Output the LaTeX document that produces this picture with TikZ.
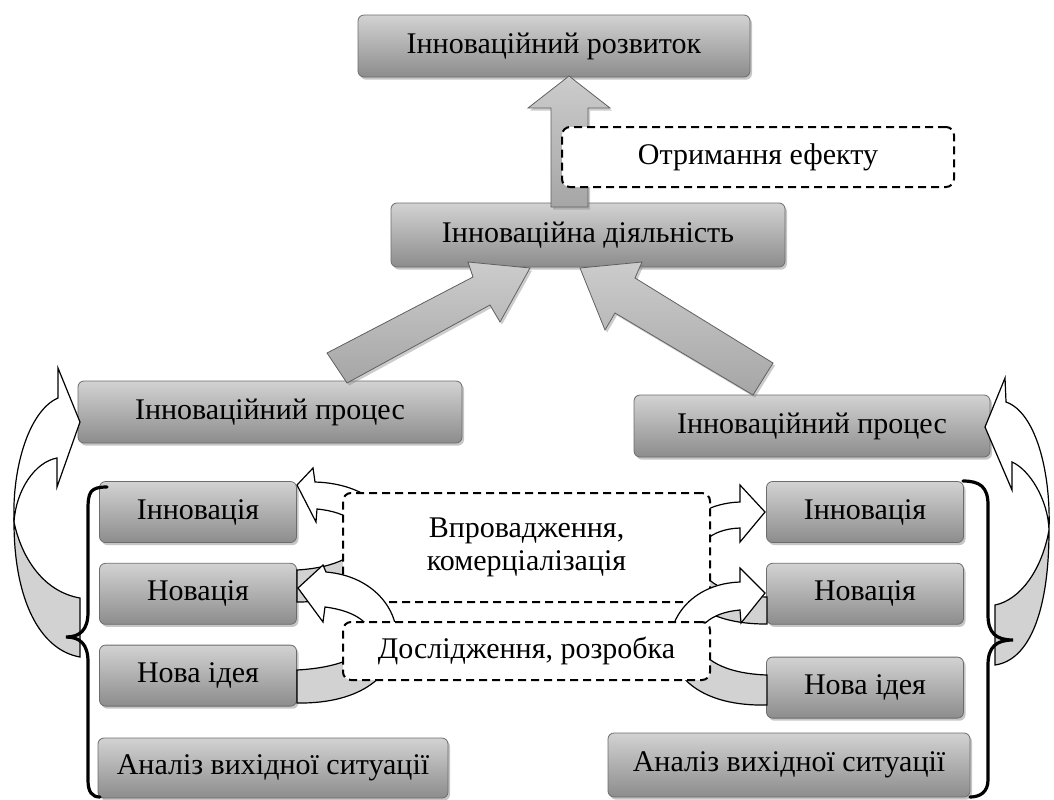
\documentclass[tikz,border=0pt]{standalone}
\usepackage{fontspec}
\setmainfont{Liberation Serif}
\usepackage{tikz}
\usetikzlibrary{positioning, shadows}
\tikzstyle{mainbox} = [rectangle, rounded corners=3pt, draw=gray!85!black, top color=gray!35, bottom color=gray!90, text centered, drop shadow={opacity=0.45, shadow xshift=1pt, shadow yshift=-1.3pt}, font=\fontsize{15}{16.5}\selectfont]
\tikzstyle{smallbox} = [mainbox, minimum width=98.5pt, minimum height=30.5pt]
\tikzstyle{notebox} = [rectangle, rounded corners=4pt, draw=black, line width=1pt, dash pattern=on 4pt off 2.5pt, fill=white, align=center, font=\fontsize{15}{16.5}\selectfont]
\tikzstyle{bigarrow} = [draw=gray!75!black, top color=gray!40, bottom color=gray!70, drop shadow={opacity=0.4, shadow xshift=1pt, shadow yshift=-1.3pt}]
\tikzstyle{bentarrow} = [draw=black, line width=0.6pt, fill=white]
\tikzstyle{bentback} = [draw=black, line width=0.6pt, fill=gray!35]
\tikzstyle{bracket} = [line width=1.6pt, line cap=round]

\begin{document}
\begin{tikzpicture}[x=0.5pt, y=-0.5pt]
    \useasboundingbox (0,0) rectangle (1054,799);

    % columns of stages
    \node (innL) [smallbox] at (198,512) {Інновація};
    \node (novL) [smallbox, below=10pt of innL] {Новація};
    \node (ideaL) [smallbox, below=10pt of novL] {Нова ідея};
    \node (analL) [mainbox, minimum width=175pt, minimum height=30pt] at (273,768) {Аналіз вихідної ситуації};
    \node (innR) [smallbox] at (865,512) {Інновація};
    \node (novR) [smallbox, below=10pt of innR] {Новація};
    \node (ideaR) [smallbox, below=16pt of novR] {Нова ідея};
    \node (analR) [mainbox, minimum width=181pt, minimum height=32pt] at (789,765) {Аналіз вихідної ситуації};

    % bent arrows novacija -> innovacija
    \draw [bentarrow, path picture={\fill[gray!35] (0,548) rectangle (1054,799);}] (297,570) .. controls (380,565) and (380,515) .. (317,509) -- (316,522) -- (297,485) -- (313,468) -- (315,482) .. controls (420,485) and (430,602) .. (297,602) -- cycle;
    \draw [bentarrow, path picture={\fill[gray!35] (0,560) rectangle (1054,799);}] (767,597) .. controls (680,595) and (680,530) .. (740,528) -- (740,542) -- (765,512) -- (740,485) -- (740,502) .. controls (650,505) and (640,625) .. (767,624) -- cycle;

    \node (vpr) [notebox, minimum width=183.5pt, minimum height=54.5pt] at (526.5,547.5) {Впровадження,\\комерціалізація};

    % bent arrows nova ideja -> novacija
    \draw [bentarrow, path picture={\fill[gray!35] (0,642) rectangle (1054,799);}] (297,670) .. controls (390,665) and (390,615) .. (325,607) -- (323,622) -- (298,588) -- (323,565) -- (326,572) .. controls (420,580) and (430,705) .. (297,703) -- cycle;
    \draw [bentarrow, path picture={\fill[gray!35] (0,645) rectangle (1054,799);}] (767,675) .. controls (680,672) and (680,615) .. (740,610) -- (741,623) -- (765,593) -- (740,568) -- (740,582) .. controls (650,585) and (635,708) .. (767,705) -- cycle;

    \node (dosl) [notebox, minimum width=183.5pt, minimum height=29pt] at (526.5,651) {Дослідження, розробка};

    % upper part
    \node (rozv) [mainbox, minimum width=196pt, minimum height=31pt] at (554,46) {Інноваційний розвиток};
    \node (diyal) [mainbox, minimum width=197pt, minimum height=32pt] at (588,235) {Інноваційна діяльність};
    \draw [bigarrow] (551,207) -- (551,108) -- (528,108) -- (569,76) -- (610,108) -- (588,108) -- (588,207) -- cycle;
    \node (efekt) [notebox, minimum width=196pt, minimum height=30pt] at (758,157) {Отримання ефекту};

    \node (procL) [mainbox, minimum width=192pt, minimum height=31pt] at (270,412) {Інноваційний процес};
    \node (procR) [mainbox, minimum width=178pt, minimum height=31pt] at (812,426) {Інноваційний процес};

    \draw [bigarrow] (327,353) -- (473,277) -- (468,262) -- (530,268) -- (500,322) -- (490,305) -- (347,383) -- cycle;
    \draw [bigarrow] (773,363) -- (635,278) -- (642,262) -- (580,268) -- (605,330) -- (615,313) -- (753,395) -- cycle;

    % side arrows
    \draw [bentarrow] (58,398) -- (58,368) -- (80,422) -- (57,487) -- (57,458) .. controls (35,462) and (16,490) .. (14,522) .. controls (12,465) and (30,410) .. (58,398) -- cycle;
    \draw [bentback] (14,522) .. controls (22,560) and (45,592) .. (80,598) -- (80,657) .. controls (40,650) and (14,600) .. (14,522) -- cycle;
    \draw [bentarrow] (1006,402) -- (1005,378) -- (985,427) -- (1012,490) -- (1012,462) .. controls (1030,470) and (1048,500) .. (1049,530) .. controls (1051,470) and (1035,412) .. (1006,402) -- cycle;
    \draw [bentback] (1049,530) .. controls (1042,570) and (1020,600) .. (995,605) -- (995,665) .. controls (1030,660) and (1049,610) .. (1049,530) -- cycle;

    % braces
    \draw [bracket] (107,487) .. controls (90,487) and (88,492) .. (88,510) -- (88,612) .. controls (88,630) and (80,637) .. (66,637) .. controls (80,637) and (88,644) .. (88,662) -- (88,780) .. controls (88,792) and (92,797) .. (100,797);
    \draw [bracket] (963,481) .. controls (980,481) and (988,487) .. (988,505) -- (988,615) .. controls (988,633) and (996,640) .. (1013,640) .. controls (996,640) and (988,647) .. (988,665) -- (988,780) .. controls (988,792) and (980,797) .. (970,797);
\end{tikzpicture}
\end{document}
